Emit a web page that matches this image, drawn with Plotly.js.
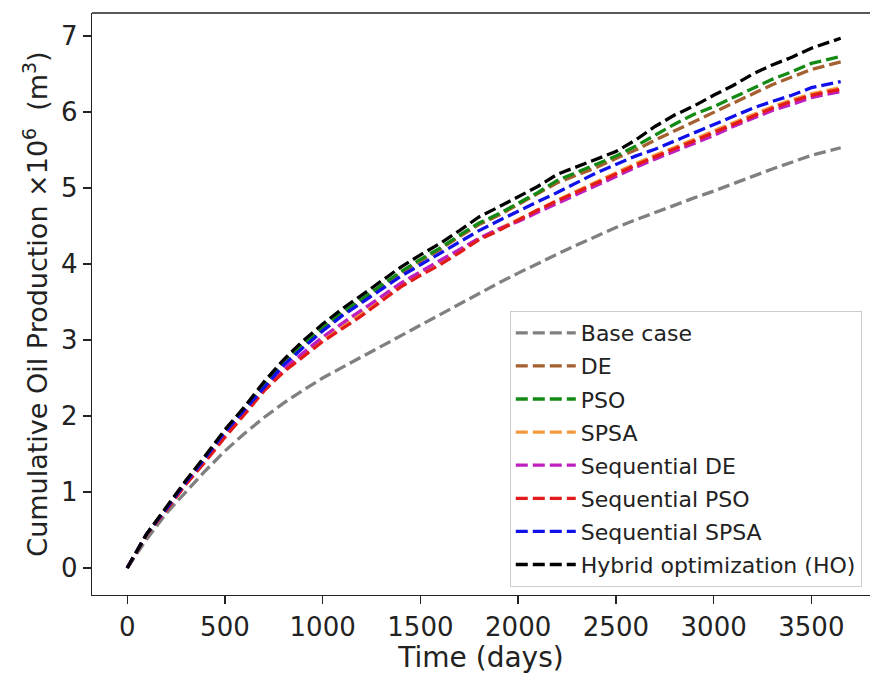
<!DOCTYPE html>
<html>
<head>
<meta charset="utf-8">
<script src="https://cdn.plot.ly/plotly-3.0.1.min.js"></script>
<style>
html,body{margin:0;padding:0;background:#fff;overflow:hidden;}
#chart{width:870px;height:675px;}
</style>
</head>
<body>
<div id="chart"></div>
<script>
const days = [0,100,200,300,400,500,600,700,800,900,1000,1100,1200,1300,1400,1500,1600,1700,1800,1900,2000,2100,2200,2300,2400,2500,2600,2700,2800,2900,3000,3100,3200,3300,3400,3500,3650];

const seriesNames = ["Base case","DE","PSO","SPSA","Sequential DE","Sequential PSO","Sequential SPSA","Hybrid optimization (HO)"];
const seriesColors = ["#808080","#a5602f","#138a13","#f39a3c","#bf1fbf","#e31a1a","#1010e8","#000000"];

const baseCase = [0,0.38,0.72,1.00,1.28,1.54,1.77,1.98,2.17,2.34,2.50,2.64,2.78,2.92,3.06,3.20,3.34,3.47,3.61,3.75,3.88,4.01,4.13,4.25,4.37,4.48,4.58,4.68,4.78,4.87,4.96,5.06,5.15,5.25,5.34,5.43,5.53];
const de = [0,0.45,0.78,1.14,1.46,1.80,2.10,2.40,2.71,2.93,3.14,3.34,3.52,3.70,3.88,4.04,4.19,4.36,4.52,4.64,4.78,4.92,5.07,5.17,5.27,5.39,5.50,5.63,5.75,5.88,6.00,6.12,6.24,6.36,6.46,6.56,6.66];
const pso = [0,0.45,0.78,1.14,1.46,1.81,2.11,2.41,2.73,2.95,3.16,3.36,3.54,3.72,3.90,4.06,4.21,4.38,4.54,4.66,4.80,4.94,5.10,5.21,5.31,5.42,5.55,5.70,5.84,5.97,6.07,6.19,6.31,6.43,6.53,6.64,6.73];
const spsa = [0,0.45,0.77,1.11,1.42,1.74,2.04,2.34,2.60,2.81,3.01,3.19,3.36,3.54,3.72,3.88,4.02,4.17,4.33,4.46,4.58,4.71,4.84,4.96,5.09,5.21,5.32,5.43,5.53,5.64,5.75,5.86,5.97,6.07,6.16,6.24,6.32];
const seqDE = [0,0.45,0.77,1.11,1.42,1.75,2.05,2.35,2.62,2.83,3.04,3.22,3.39,3.57,3.75,3.90,4.04,4.19,4.34,4.46,4.56,4.68,4.80,4.91,5.03,5.15,5.27,5.38,5.48,5.58,5.69,5.81,5.91,6.02,6.10,6.19,6.27];
const seqPSO = [0,0.44,0.76,1.10,1.40,1.72,2.02,2.33,2.58,2.78,2.98,3.15,3.32,3.51,3.70,3.85,3.99,4.15,4.32,4.44,4.58,4.71,4.83,4.95,5.07,5.19,5.30,5.41,5.51,5.62,5.73,5.84,5.95,6.05,6.14,6.22,6.30];
const seqSPSA = [0,0.45,0.78,1.13,1.45,1.79,2.08,2.37,2.67,2.90,3.12,3.32,3.49,3.66,3.84,3.99,4.14,4.29,4.44,4.57,4.70,4.82,4.94,5.07,5.20,5.31,5.42,5.51,5.62,5.73,5.83,5.95,6.05,6.14,6.22,6.32,6.40];
const hybrid = [0,0.45,0.80,1.15,1.48,1.82,2.12,2.45,2.74,2.99,3.21,3.41,3.59,3.77,3.96,4.12,4.27,4.44,4.62,4.75,4.89,5.02,5.18,5.28,5.37,5.48,5.63,5.81,5.96,6.08,6.22,6.35,6.50,6.62,6.72,6.84,6.97];

const xTicks = [0,500,1000,1500,2000,2500,3000,3500];
const yTicks = [0,1,2,3,4,5,6,7];

const allSeries = [baseCase, de, pso, spsa, seqDE, seqPSO, seqSPSA, hybrid];

const traces = allSeries.map((vals, i) => ({
  x: days,
  y: vals,
  type: 'scatter',
  mode: 'lines',
  name: seriesNames[i],
  legendgroup: 'g' + i,
  line: {color: seriesColors[i], width: 3.3, dash: '12px,5px'}
}));

const fontFam = 'DejaVu Sans, sans-serif';

const layout = {
  width: 870,
  height: 675,
  margin: {l: 92, r: 0, t: 13, b: 80},
  paper_bgcolor: '#ffffff',
  plot_bgcolor: '#ffffff',
  font: {family: fontFam, color: '#222222'},
  showlegend: true,
  legend: {
    x: 0.537, y: 0.488, xanchor: 'left', yanchor: 'top',
    bgcolor: 'rgba(255,255,255,0.9)',
    bordercolor: '#cccccc', borderwidth: 1,
    font: {family: fontFam, size: 22, color: '#222222'},
    tracegroupgap: 1.5,
    itemwidth: 60,
    traceorder: 'grouped'
  },
  xaxis: {
    range: [-180, 3800],
    tickvals: xTicks,
    ticktext: xTicks.map(String),
    showgrid: false, zeroline: false,
    showline: true, linecolor: '#222222', linewidth: 1.3,
    ticks: 'outside', ticklen: 8, tickwidth: 1.3, tickcolor: '#222222',
    tickfont: {family: fontFam, size: 26, color: '#222222'},
    title: {text: 'Time (days)', font: {family: fontFam, size: 28, color: '#222222'}, standoff: 4}
  },
  yaxis: {
    range: [-0.355, 7.303],
    tickvals: yTicks,
    ticktext: yTicks.map(String),
    showgrid: false, zeroline: false,
    showline: true, linecolor: '#222222', linewidth: 1.3,
    ticks: 'outside', ticklen: 8, tickwidth: 1.3, tickcolor: '#222222',
    tickfont: {family: fontFam, size: 26, color: '#222222'},
    title: {text: 'Cumulative Oil Production ×10<sup>6</sup>  (m<sup>3</sup>)', font: {family: fontFam, size: 27, color: '#222222'}, standoff: 5}
  },
  shapes: [{
    type: 'line', xref: 'paper', yref: 'paper', x0: 0, x1: 1.01, y0: 1, y1: 1,
    line: {color: '#222222', width: 1.3}
  }]
};

Plotly.newPlot('chart', traces, layout, {displayModeBar: false, staticPlot: true});
</script>
</body>
</html>
